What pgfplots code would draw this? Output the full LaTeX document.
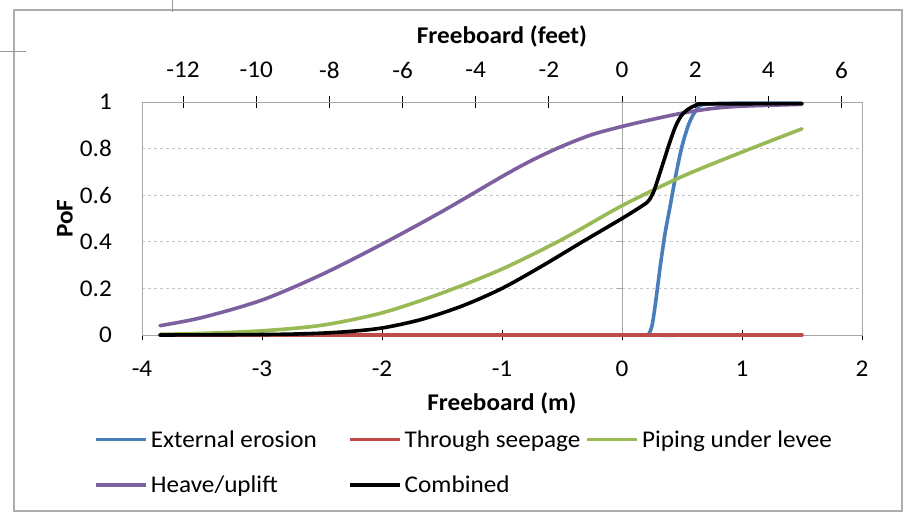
\documentclass[border=0pt]{standalone}
\usepackage{fontspec}
\setmainfont{Carlito}[FakeStretch=1.05]
\usepackage{pgfplots}
\pgfplotsset{compat=1.18}

\definecolor{cBlue}{HTML}{4A7EBB}
\definecolor{cRed}{HTML}{BE4B48}
\definecolor{cGreen}{HTML}{98B954}
\definecolor{cPurple}{HTML}{7D60A0}

\begin{document}
\begin{tikzpicture}[font=\fontsize{24}{29}\selectfont]
\useasboundingbox (0pt,0pt) rectangle (913pt,-516pt);
% chart frame and page scraps
\draw[gray!65, line width=1.5pt] (14pt,-10pt) rectangle (902pt,-511pt);
\draw[gray!80, line width=1pt] (0pt,-52pt) -- (26pt,-52pt);
\draw[gray!80, line width=1pt] (172pt,0pt) -- (172pt,-12pt);

% top axis in feet
\begin{axis}[
    at={(142pt,-335pt)}, anchor=south west, scale only axis,
    width=720pt, height=233pt,
    xmin=-13.1234, xmax=6.5617, ymin=0, ymax=1,
    axis x line*=top, axis y line=none,
    x axis line style={-, black, line width=1pt},
    xtick={-12,-10,-8,-6,-4,-2,0,2,4,6},
    tick align=center, major tick length=12pt,
    xtick style={black, line width=0.8pt},
    /pgf/number format/assume math mode=true,
    xticklabel style={anchor=center, yshift=26pt},
    xlabel={\bfseries Freeboard (feet)},
    xlabel style={at={(axis description cs:0.5,1.282)}, anchor=center},
]
\addplot[draw=none] coordinates {(0,0)};
\end{axis}

% main axis in metres
\begin{axis}[
    at={(142pt,-335pt)}, anchor=south west, scale only axis,
    width=720pt, height=233pt,
    xmin=-4, xmax=2, ymin=0, ymax=1,
    clip=false,
    xtick={-4,-3,-2,-1,0,1,2},
    ytick={0,0.2,0.4,0.6,0.8,1},
    yticklabels={0,0.2,0.4,0.6,0.8,1},
    xtick pos=left, ytick pos=left,
    tick align=center, major tick length=10pt,
    xtick style={black, line width=0.8pt},
    ytick style={draw=none},
    axis line style={gray!70, line width=1pt},
    ymajorgrids,
    grid style={gray!45, line width=0.8pt, dash pattern=on 3pt off 3pt},
    /pgf/number format/assume math mode=true,
    xticklabel style={anchor=center, yshift=-29pt},
    yticklabel style={anchor=east, inner sep=0pt, xshift=-25pt},
    xlabel={\bfseries Freeboard (m)},
    xlabel style={at={(axis description cs:0.5,-0.292)}, anchor=center},
    ylabel={\bfseries PoF},
    ylabel style={at={(axis description cs:-0.107,0.5)}, anchor=center, rotate=0},
    legend columns=3,
    legend cell align=left,
    legend style={at={(axis description cs:-0.064,-0.40)}, anchor=north west,
        draw=none, fill=none, inner sep=0pt,
        font=\fontsize{24}{29}\selectfont,
        /tikz/column 2/.style={column sep=31pt},
        /tikz/column 4/.style={column sep=5pt},
        row sep=23pt},
    legend image code/.code={
        \fill[#1, draw=none] (0pt,-1.9pt) rectangle (50pt,1.9pt);
        \path (51pt,0pt);},
    every axis plot/.append style={line width=3.6pt, line join=round, line cap=round},
]

\draw[gray!70, line width=1pt] (axis cs:0,0) -- (axis cs:0,1);
\pgfplotsinvokeforeach{0.2,0.4,0.6,0.8}{
    \draw[gray!70, line width=1pt] (axis cs:0,#1) ++(-5pt,0pt) -- ++(5pt,0pt);
}

\addplot[cBlue, smooth] coordinates {
    (-3.85,0) (0.2,0) (0.22,0.002) (0.25,0.04) (0.28,0.14) (0.32,0.30)
    (0.36,0.44) (0.40,0.55) (0.45,0.69) (0.50,0.81) (0.56,0.91)
    (0.625,0.97) (0.69,0.99) (1.0,0.995) (1.5,0.995)};
\addlegendentry{External erosion}

\addplot[cRed] coordinates {(-3.85,0) (1.5,0)};
\addlegendentry{Through seepage}

\addplot[cGreen, smooth] coordinates {
    (-3.85,0.003) (-3.5,0.007) (-3.0,0.018) (-2.5,0.042) (-2.0,0.095)
    (-1.5,0.18) (-1.0,0.283) (-0.5,0.41) (0,0.555) (0.5,0.68)
    (1.0,0.785) (1.5,0.885)};
\addlegendentry{Piping under levee}

\addplot[cPurple, smooth] coordinates {
    (-3.85,0.04) (-3.5,0.075) (-3.0,0.15) (-2.5,0.26) (-2.0,0.39)
    (-1.5,0.53) (-1.0,0.68) (-0.75,0.75) (-0.5,0.81) (-0.25,0.86)
    (0,0.895) (0.25,0.925) (0.5,0.952) (0.75,0.972) (1.0,0.982) (1.5,0.99)};
\addlegendentry{Heave/uplift}

\addplot[black, smooth] coordinates {
    (-3.85,0) (-3.0,0.002) (-2.6,0.006) (-2.3,0.014) (-2.0,0.03)
    (-1.67,0.067) (-1.33,0.125) (-1.0,0.2) (-0.67,0.295) (-0.33,0.40)
    (0,0.50) (0.17,0.555) (0.22,0.575) (0.26,0.61) (0.30,0.67)
    (0.35,0.75) (0.40,0.83) (0.45,0.90) (0.5,0.945) (0.56,0.972)
    (0.625,0.988) (0.7,0.992) (1.5,0.993)};
\addlegendentry{Combined}

\end{axis}
\end{tikzpicture}
\end{document}
